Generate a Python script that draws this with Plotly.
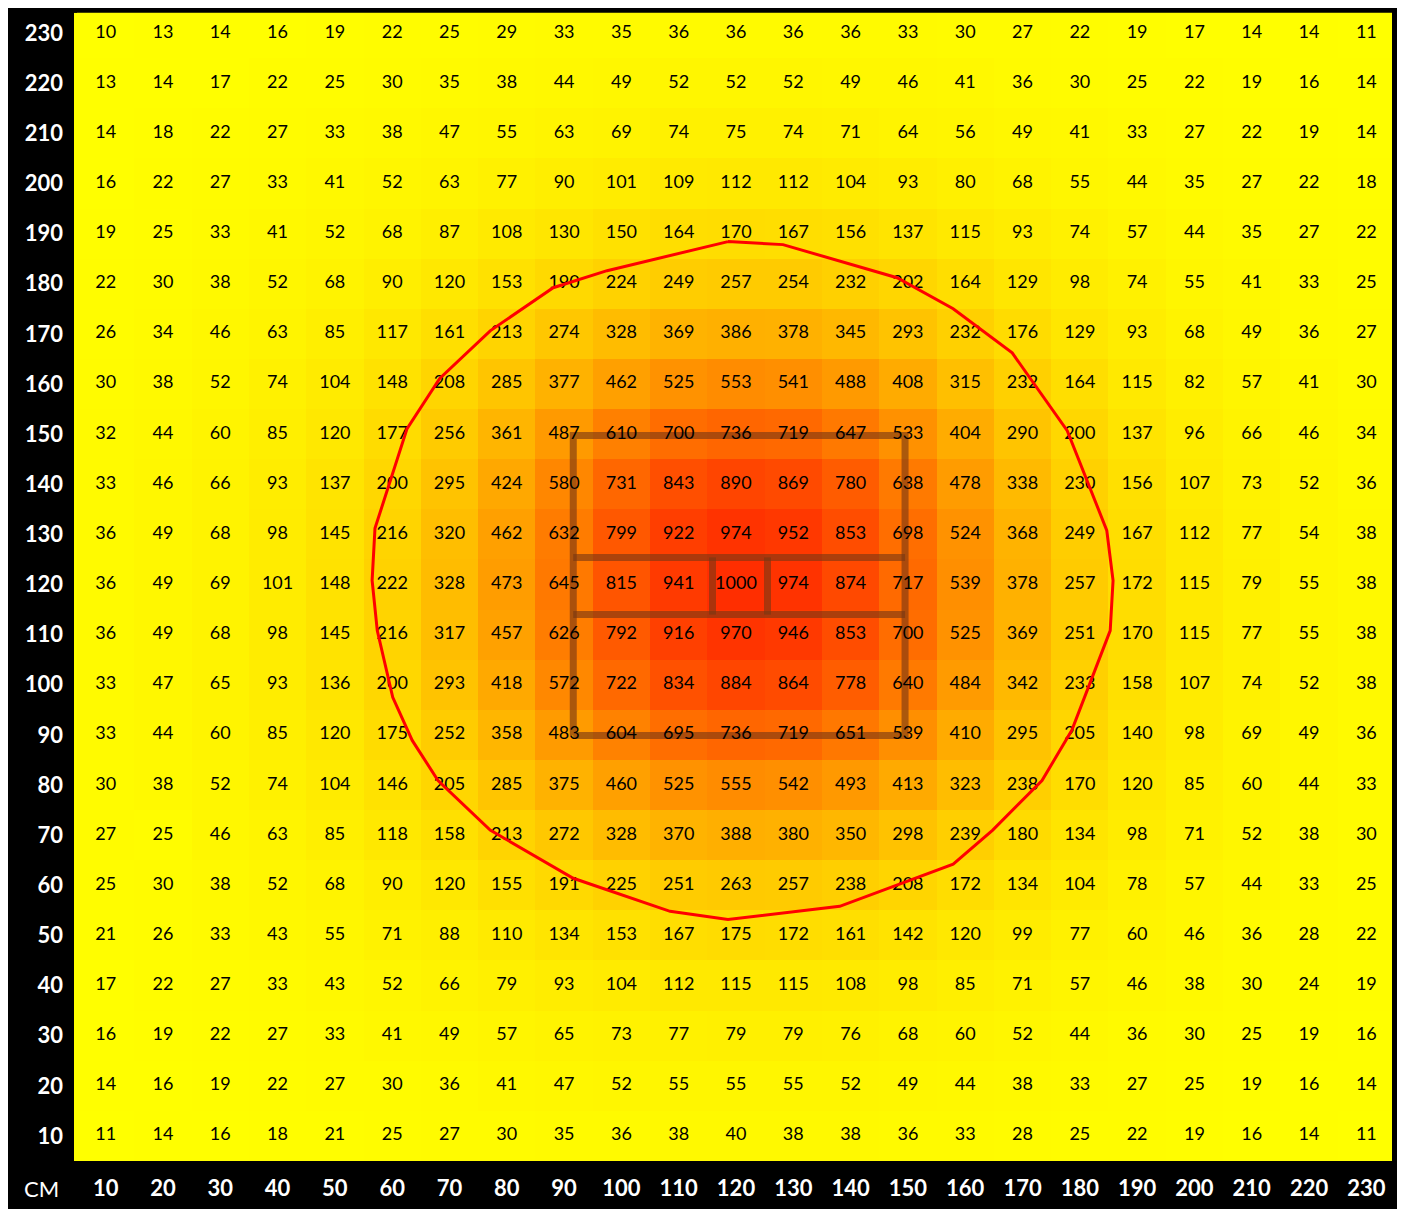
import plotly.graph_objects as go

# ---- data ----
x_cm = [10, 20, 30, 40, 50, 60, 70, 80, 90, 100, 110, 120, 130, 140, 150, 160, 170, 180, 190, 200, 210, 220, 230]
y_cm = [230, 220, 210, 200, 190, 180, 170, 160, 150, 140, 130, 120, 110, 100, 90, 80, 70, 60, 50, 40, 30, 20, 10]

r230 = [10, 13, 14, 16, 19, 22, 25, 29, 33, 35, 36, 36, 36, 36, 33, 30, 27, 22, 19, 17, 14, 14, 11]
r220 = [13, 14, 17, 22, 25, 30, 35, 38, 44, 49, 52, 52, 52, 49, 46, 41, 36, 30, 25, 22, 19, 16, 14]
r210 = [14, 18, 22, 27, 33, 38, 47, 55, 63, 69, 74, 75, 74, 71, 64, 56, 49, 41, 33, 27, 22, 19, 14]
r200 = [16, 22, 27, 33, 41, 52, 63, 77, 90, 101, 109, 112, 112, 104, 93, 80, 68, 55, 44, 35, 27, 22, 18]
r190 = [19, 25, 33, 41, 52, 68, 87, 108, 130, 150, 164, 170, 167, 156, 137, 115, 93, 74, 57, 44, 35, 27, 22]
r180 = [22, 30, 38, 52, 68, 90, 120, 153, 190, 224, 249, 257, 254, 232, 202, 164, 129, 98, 74, 55, 41, 33, 25]
r170 = [26, 34, 46, 63, 85, 117, 161, 213, 274, 328, 369, 386, 378, 345, 293, 232, 176, 129, 93, 68, 49, 36, 27]
r160 = [30, 38, 52, 74, 104, 148, 208, 285, 377, 462, 525, 553, 541, 488, 408, 315, 232, 164, 115, 82, 57, 41, 30]
r150 = [32, 44, 60, 85, 120, 177, 256, 361, 487, 610, 700, 736, 719, 647, 533, 404, 290, 200, 137, 96, 66, 46, 34]
r140 = [33, 46, 66, 93, 137, 200, 295, 424, 580, 731, 843, 890, 869, 780, 638, 478, 338, 230, 156, 107, 73, 52, 36]
r130 = [36, 49, 68, 98, 145, 216, 320, 462, 632, 799, 922, 974, 952, 853, 698, 524, 368, 249, 167, 112, 77, 54, 38]
r120 = [36, 49, 69, 101, 148, 222, 328, 473, 645, 815, 941, 1000, 974, 874, 717, 539, 378, 257, 172, 115, 79, 55, 38]
r110 = [36, 49, 68, 98, 145, 216, 317, 457, 626, 792, 916, 970, 946, 853, 700, 525, 369, 251, 170, 115, 77, 55, 38]
r100 = [33, 47, 65, 93, 136, 200, 293, 418, 572, 722, 834, 884, 864, 778, 640, 484, 342, 233, 158, 107, 74, 52, 38]
r90 = [33, 44, 60, 85, 120, 175, 252, 358, 483, 604, 695, 736, 719, 651, 539, 410, 295, 205, 140, 98, 69, 49, 36]
r80 = [30, 38, 52, 74, 104, 146, 205, 285, 375, 460, 525, 555, 542, 493, 413, 323, 238, 170, 120, 85, 60, 44, 33]
r70 = [27, 25, 46, 63, 85, 118, 158, 213, 272, 328, 370, 388, 380, 350, 298, 239, 180, 134, 98, 71, 52, 38, 30]
r60 = [25, 30, 38, 52, 68, 90, 120, 155, 191, 225, 251, 263, 257, 238, 208, 172, 134, 104, 78, 57, 44, 33, 25]
r50 = [21, 26, 33, 43, 55, 71, 88, 110, 134, 153, 167, 175, 172, 161, 142, 120, 99, 77, 60, 46, 36, 28, 22]
r40 = [17, 22, 27, 33, 43, 52, 66, 79, 93, 104, 112, 115, 115, 108, 98, 85, 71, 57, 46, 38, 30, 24, 19]
r30 = [16, 19, 22, 27, 33, 41, 49, 57, 65, 73, 77, 79, 79, 76, 68, 60, 52, 44, 36, 30, 25, 19, 16]
r20 = [14, 16, 19, 22, 27, 30, 36, 41, 47, 52, 55, 55, 55, 52, 49, 44, 38, 33, 27, 25, 19, 16, 14]
r10 = [11, 14, 16, 18, 21, 25, 27, 30, 35, 36, 38, 40, 38, 38, 36, 33, 28, 25, 22, 19, 16, 14, 11]

# red outline (cm coordinates)
ring_x = [118.6, 128.2, 148.1, 157.9, 168.2, 177.8, 184.7, 185.8, 185.3, 178.6, 173.4, 164.8, 157.9,
          138.1, 118.6, 108.5, 91.6, 77.1, 68.0, 63.5, 60.1, 57.4, 56.5, 57.0, 62.6, 68.3, 77.1, 88.1, 97.5, 118.6]
ring_y = [188.4, 187.8, 181.2, 175.0, 166.2, 150.7, 130.8, 120.8, 110.8, 90.9, 80.9, 71.0, 64.2,
          55.8, 53.2, 54.8, 61.4, 71.0, 80.9, 88.9, 97.5, 110.8, 120.8, 131.2, 151.1, 161.1, 170.6, 179.2, 182.6, 188.4]

# brown frame (cm coordinates)
frame_x = [91.6, 149.5, 115.9, 125.5]   # left, right, inner-left, inner-right
frame_y = [89.9, 149.7, 114.0, 125.4]   # bottom, top, inner-bottom, inner-top

rows = [r230, r220, r210, r200, r190, r180, r170, r160, r150, r140, r130, r120,
        r110, r100, r90, r80, r70, r60, r50, r40, r30, r20, r10]

fig = go.Figure()

fig.add_trace(go.Heatmap(
    x=x_cm, y=y_cm, z=rows,
    zmin=10, zmax=1000,
    colorscale=[[0, "#FFFF00"], [1, "#FF2E00"]],
    showscale=False, hoverinfo="skip", xgap=0, ygap=0,
))

# brown frame lines
L, R, IL, IR = frame_x
B, T, IB, IT = frame_y
bx = [L, R, R, L, L, None, L, R, None, L, R, None, IL, IL, None, IR, IR]
by = [B, B, T, T, B, None, IB, IB, None, IT, IT, None, IB, IT, None, IB, IT]
fig.add_trace(go.Scatter(x=bx, y=by, mode="lines",
                         line=dict(color="rgba(120,55,20,0.62)", width=7),
                         hoverinfo="skip", showlegend=False))

# cell values
tx, ty, tt = [], [], []
for yv, row in zip(y_cm, rows):
    for xv, v in zip(x_cm, row):
        tx.append(xv); ty.append(yv); tt.append(str(v))
fig.add_trace(go.Scatter(x=tx, y=ty, text=tt, mode="text",
                         textfont=dict(family="Lato", size=18, color="#000000"),
                         hoverinfo="skip", showlegend=False))

# red outline
fig.add_trace(go.Scatter(x=ring_x, y=ring_y, mode="lines",
                         line=dict(color="#FF0000", width=3),
                         hoverinfo="skip", showlegend=False))

# page has an 8px body margin: lay the figure out 8px up/left of the target
OFF = 8
W, H = 1405, 1209
ml, mr, mt, mb = 77 - OFF, 18, 0, 56
pw, ph = W - ml - mr, H - mt - mb

def px_x(p):
    return (p - OFF - ml) / pw

def px_y(p):
    return (H - mb - (p - OFF)) / ph

shapes = [
    dict(type="rect", xref="paper", yref="paper", layer="below",
         x0=px_x(5), x1=px_x(1400), y0=px_y(1220), y1=px_y(4),
         fillcolor="black", line=dict(width=0)),
    dict(type="rect", xref="paper", yref="paper", layer="below",
         x0=px_x(74), x1=px_x(77.5), y0=px_y(1161), y1=px_y(12.7),
         fillcolor="#FFFF00", line=dict(width=0)),
    dict(type="rect", xref="paper", yref="paper", layer="above",
         x0=px_x(5), x1=px_x(1400), y0=px_y(12.7), y1=px_y(4),
         fillcolor="black", line=dict(width=0)),
    dict(type="rect", xref="paper", yref="paper", layer="above",
         x0=px_x(1392), x1=px_x(1400), y0=px_y(1220), y1=px_y(4),
         fillcolor="black", line=dict(width=0)),
]

fig.update_layout(
    width=W, height=H,
    margin=dict(l=ml, r=mr, t=mt, b=mb, pad=0),
    paper_bgcolor="white", plot_bgcolor="#FFFF00",
    shapes=shapes,
    showlegend=False,
    annotations=[dict(text="CM", xref="paper", yref="paper",
                      x=px_x(41), y=px_y(1188), xanchor="center", yanchor="middle",
                      showarrow=False, font=dict(family="Lato", size=22, color="white"))],
)
fig.update_xaxes(range=[5, 235], tickvals=x_cm, ticktext=[str(v) for v in x_cm],
                 showgrid=False, zeroline=False, showline=False, ticks="",
                 ticklabelstandoff=12,
                 tickfont=dict(family="Lato", size=22, color="white", weight="bold"))
fig.update_yaxes(range=[5, 235], tickvals=y_cm, ticktext=[str(v) for v in y_cm],
                 showgrid=False, zeroline=False, showline=False, ticks="",
                 ticklabelstandoff=13,
                 tickfont=dict(family="Lato", size=22, color="white", weight="bold"))

fig.write_html("out.html")
